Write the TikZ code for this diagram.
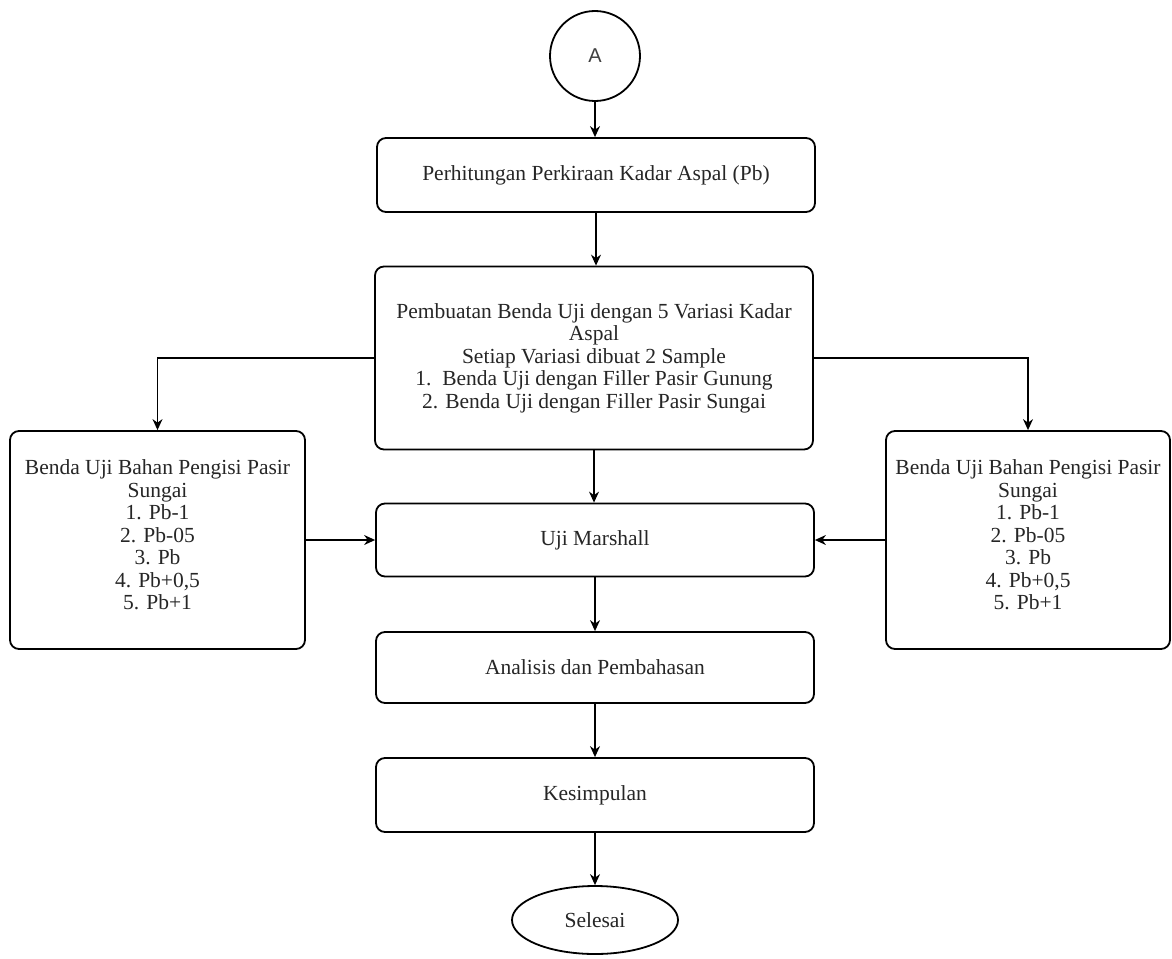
\documentclass[tikz,border=0pt]{standalone}
\usepackage{fontspec}
\setmainfont{Liberation Serif}
\newfontfamily\sansA{Liberation Sans}
\usetikzlibrary{arrows.meta,shapes.geometric}
\begin{document}
\begin{tikzpicture}[x=1pt,y=-1pt,
  txt/.style={align=center, font=\fontsize{21.5}{22.5}\selectfont, text=black!85},
  box/.style={draw=black, line width=1.8pt, rounded corners=9pt, txt, inner sep=3pt},
  arr/.style={line width=1.2pt, -{Stealth[length=11pt,width=10pt]}}]
\useasboundingbox[fill=white] (0,0) rectangle (1172,958);
\node[draw, circle, line width=1.8pt, minimum size=90pt, inner sep=0pt,
  font=\sansA\fontsize{20}{24}\selectfont, text=black!75] (A) at (595,56) {A};
\node[box, minimum width=438pt, minimum height=74pt] (b1) at (596,175)
  {Perhitungan Perkiraan Kadar Aspal (Pb)};
\node[box, minimum width=438pt, minimum height=183pt] (b2) at (594,358)
  {Pembuatan Benda Uji dengan 5 Variasi Kadar\\ Aspal\\ Setiap Variasi dibuat 2 Sample\\
   1.\ \ Benda Uji dengan Filler Pasir Gunung\\ 2. Benda Uji dengan Filler Pasir Sungai};
\node[box, minimum width=438pt, minimum height=73pt] (um) at (595,540) {Uji Marshall};
\node[box, minimum width=438pt, minimum height=71pt] (an) at (595,667.5) {Analisis dan Pembahasan};
\node[box, minimum width=438pt, minimum height=74pt] (ks) at (595,795) {Kesimpulan};
\node[draw, ellipse, line width=1.8pt, minimum width=166pt, minimum height=68pt, inner sep=0pt,
  txt] (se) at (595,920) {Selesai};
\node[box, minimum width=295pt, minimum height=218pt,
  label={[txt, yshift=5pt]center:Benda Uji Bahan Pengisi Pasir\\ Sungai\\ 1. Pb-1\\ 2. Pb-05\\ 3. Pb\\ 4. Pb+0,5\\ 5. Pb+1}]
  (lb) at (157.5,540) {};
\node[box, minimum width=284pt, minimum height=218pt,
  label={[txt, yshift=5pt]center:Benda Uji Bahan Pengisi Pasir\\ Sungai\\ 1. Pb-1\\ 2. Pb-05\\ 3. Pb\\ 4. Pb+0,5\\ 5. Pb+1}]
  (rb) at (1028,540) {};
\draw[arr] (A.south) -- (A.south |- b1.north);
\draw[arr] (b1.south) -- (b1.south |- b2.north);
\draw[arr] (b2.west) -| (lb.north);
\draw[arr] (b2.east) -| (rb.north);
\draw[arr] (b2.south) -- (b2.south |- um.north);
\draw[arr] (lb.east) -- (um.west);
\draw[arr] (rb.west) -- (um.east);
\draw[arr] (um.south) -- (an.north);
\draw[arr] (an.south) -- (ks.north);
\draw[arr] (ks.south) -- (se.north);
\end{tikzpicture}
\end{document}
